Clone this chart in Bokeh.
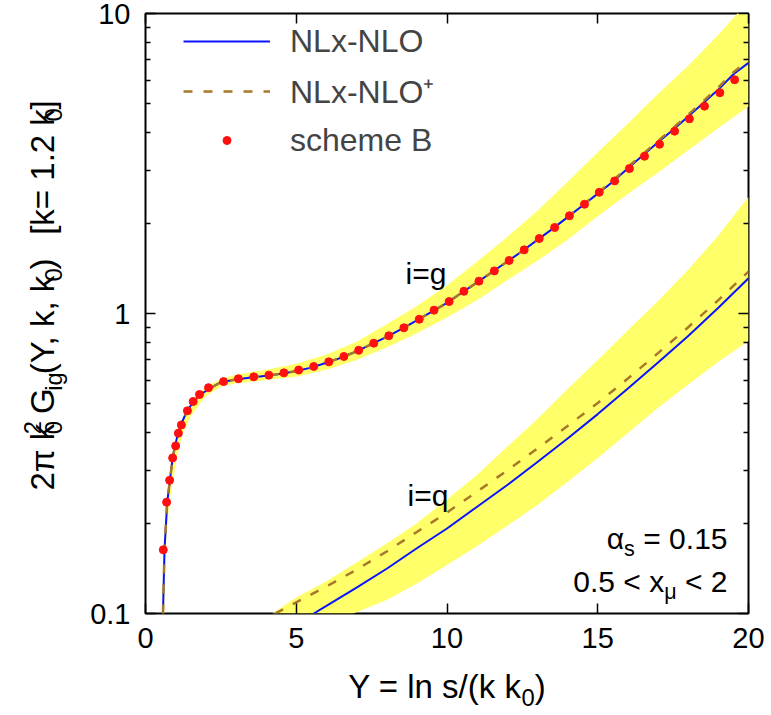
import math
from bokeh.plotting import figure
from bokeh.layouts import row, column
from bokeh.models import (Range1d, LogAxis, LinearAxis, FixedTicker, Legend, LegendItem,
                          Label, CustomJSTickFormatter)
from bokeh.core.properties import value
from bokeh.embed import file_html
from bokeh.resources import INLINE

FONT = "Liberation Sans"

# ---------------- data ----------------
x_ticks = [0, 5, 10, 15, 20]
y_ticks = [0.1, 1, 10]
y_tick_labels = {0.1: "0.1", 1: "1", 10: "10"}
y_minor = [0.2, 0.3, 0.4, 0.5, 0.6, 0.7, 0.8, 0.9, 2, 3, 4, 5, 6, 7, 8, 9]

# i = g : NLx-NLO (solid blue)
g_Y = [0.58, 0.63, 0.72, 0.81, 0.90, 0.98, 1.08, 1.17, 1.38, 1.60, 1.82, 2.18, 2.50, 3.0, 3.5,
       4.0, 4.5, 5.0, 5.5, 6.0, 6.5, 7.0, 7.5, 8.0, 8.5, 9.0, 9.5, 10, 10.5, 11, 11.5, 12, 12.5,
       13, 13.5, 14, 14.5, 15, 15.5, 16, 16.5, 17, 17.5, 18, 18.5, 19, 19.5, 20]
g_nlo = [0.1, 0.163, 0.235, 0.278, 0.33, 0.362, 0.4, 0.425, 0.474, 0.509, 0.537, 0.566, 0.59,
         0.603, 0.612, 0.62, 0.63, 0.643, 0.66, 0.685, 0.713, 0.748, 0.79, 0.836, 0.888, 0.948,
         1.015, 1.085, 1.175, 1.27, 1.375, 1.49, 1.615, 1.76, 1.915, 2.095, 2.29, 2.51, 2.75,
         3.05, 3.37, 3.72, 4.1, 4.54, 5.03, 5.58, 6.27, 6.85]
# i = g : NLx-NLO+ (dashed)
g_nlop = [0.1, 0.163, 0.235, 0.278, 0.33, 0.362, 0.4, 0.425, 0.474, 0.509, 0.537, 0.566, 0.59,
          0.603, 0.612, 0.62, 0.63, 0.643, 0.66, 0.685, 0.713, 0.748, 0.79, 0.836, 0.888, 0.948,
          1.015, 1.085, 1.175, 1.27, 1.375, 1.49, 1.615, 1.76, 1.92, 2.10, 2.30, 2.52, 2.77,
          3.08, 3.40, 3.76, 4.15, 4.60, 5.10, 5.67, 6.37, 6.97]
# i = g : scale band
g_band_Y_up = [0.55, 0.6, 0.7, 0.8, 1.0, 1.2, 1.5, 2.0, 2.5, 3.0, 4.0, 5.0, 6.0, 7.0, 8.0, 9.0,
               10, 11, 12, 13, 14, 15, 16, 17, 18, 19, 20]
g_band_up = [0.1, 0.165, 0.24, 0.285, 0.37, 0.44, 0.505, 0.57, 0.605, 0.625, 0.65, 0.68, 0.73,
             0.805, 0.92, 1.06, 1.24, 1.49, 1.8, 2.2, 2.75, 3.45, 4.3, 5.4, 6.7, 8.5, 11.0]
g_band_Y_lo = [0.62, 0.7, 0.8, 1.0, 1.2, 1.5, 2.0, 2.5, 3.0, 4.0, 5.0, 6.0, 7.0, 8.0, 9.0, 10,
               11, 12, 13, 14, 15, 16, 17, 18, 19, 20]
g_band_lo = [0.1, 0.185, 0.235, 0.315, 0.39, 0.455, 0.53, 0.57, 0.585, 0.6, 0.615, 0.65, 0.70,
             0.77, 0.86, 0.97, 1.11, 1.29, 1.5, 1.76, 2.11, 2.5, 2.95, 3.5, 4.15, 4.9]

# scheme B points (i = g)
B_Y = [0.59, 0.70, 0.80, 0.90, 1.00, 1.09, 1.19, 1.39, 1.58, 1.79, 2.09, 2.59, 3.08, 3.59, 4.09,
       4.59, 5.08, 5.58, 6.08, 6.58, 7.07, 7.57, 8.07, 8.57, 9.08, 9.57, 10.07, 10.56, 11.06,
       11.57, 12.06, 12.56, 13.06, 13.57, 14.06, 14.56, 15.05, 15.56, 16.05, 16.55, 17.05,
       17.55, 18.04, 18.54, 19.05, 19.54]
B_val = [0.163, 0.235, 0.278, 0.330, 0.362, 0.399, 0.425, 0.474, 0.509, 0.537, 0.566, 0.593,
         0.606, 0.615, 0.623, 0.634, 0.648, 0.666, 0.690, 0.719, 0.754, 0.796, 0.843, 0.896,
         0.957, 1.026, 1.096, 1.186, 1.282, 1.387, 1.502, 1.630, 1.778, 1.935, 2.117, 2.313,
         2.535, 2.767, 3.041, 3.343, 3.665, 4.052, 4.455, 4.911, 5.445, 6.012]

# i = q
q_Y = [5.58, 6, 7, 8, 9, 10, 11, 12, 13, 14, 15, 16, 17, 18, 19, 20]
q_nlo = [0.1, 0.106, 0.122, 0.141, 0.165, 0.192, 0.227, 0.268, 0.32, 0.383, 0.462, 0.562,
         0.687, 0.842, 1.045, 1.31]
qp_Y = [4.3, 5, 6, 7, 8, 9, 10, 11, 12, 13, 14, 15, 16, 17, 18, 19, 20]
q_nlop = [0.1, 0.109, 0.123, 0.14, 0.161, 0.187, 0.217, 0.255, 0.3, 0.355, 0.422, 0.503, 0.607,
          0.738, 0.9, 1.108, 1.38]
q_band_Y_up = [4.2, 5, 6, 7, 8, 9, 10, 11, 12, 13, 14, 15, 16, 17, 18, 19, 20]
q_band_up = [0.1, 0.113, 0.128, 0.148, 0.171, 0.2, 0.24, 0.29, 0.36, 0.445, 0.56, 0.7, 0.88,
             1.1, 1.4, 1.82, 2.45]
q_band_Y_lo = [6.9, 8, 9, 10, 11, 12, 13, 14, 15, 16, 17, 18, 19, 20]
q_band_lo = [0.1, 0.111, 0.126, 0.145, 0.168, 0.196, 0.23, 0.275, 0.33, 0.4, 0.485, 0.58, 0.69,
             0.81]

# ---------------- styles / geometry ----------------
BLUE = "#0a14ff"
BROWN = "#a8782a"
RED = "#ff1010"
YELLOW = "#ffff6a"
FS_TICK = 29     # tick labels
FS = 30          # in-plot texts
FS_T = 33        # axis titles
FS_LEG = 32      # legend
BASE_FIX = 0.32  # measured offset of Bokeh's "alphabetic" anchor, in font sizes

F_L, F_T, F_W, F_H = 145, 13, 603, 600      # frame in page pixels
LEFT_W = 70                                  # strip holding the y title
MAIN_W, MAIN_H = 700, 665
BOT_H = 50
TOTAL_W = LEFT_W + MAIN_W

# ---------------- main figure ----------------
p = figure(width=MAIN_W, height=MAIN_H,
           x_range=Range1d(0, 20), y_range=Range1d(0.1, 10), y_axis_type="log",
           output_backend="svg", toolbar_location=None,
           min_border_left=F_L - LEFT_W, min_border_top=F_T,
           min_border_right=MAIN_W - (F_L - LEFT_W) - F_W,
           min_border_bottom=MAIN_H - F_T - F_H)
p.background_fill_color = "white"
p.border_fill_color = "white"
p.outline_line_color = "black"
p.outline_line_width = 2
p.grid.visible = False

def style_axis(ax, labels=True):
    ax.axis_line_color = None
    ax.major_tick_in = 10
    ax.major_tick_out = 0
    ax.minor_tick_in = 5
    ax.minor_tick_out = 0
    ax.major_tick_line_color = "black"
    ax.major_tick_line_width = 1.5
    ax.minor_tick_line_color = "black"
    ax.minor_tick_line_width = 1.5
    ax.major_label_text_font = FONT
    ax.major_label_text_font_size = f"{FS_TICK}px"
    ax.major_label_text_color = "black"
    if not labels:
        ax.formatter = CustomJSTickFormatter(code="return ''")
        ax.major_label_standoff = 0

xa = p.xaxis[0]
xa.ticker = FixedTicker(ticks=x_ticks)
style_axis(xa)
xa.major_label_standoff = 14
ya = p.yaxis[0]
ya.ticker = FixedTicker(ticks=y_ticks, minor_ticks=y_minor)
ya.major_label_overrides = y_tick_labels
style_axis(ya)
ya.major_label_standoff = 15

top = LinearAxis(ticker=FixedTicker(ticks=x_ticks))
style_axis(top, labels=False)
p.add_layout(top, "above")
right = LogAxis(ticker=FixedTicker(ticks=y_ticks, minor_ticks=y_minor))
style_axis(right, labels=False)
p.add_layout(right, "right")

# bands
p.patch(g_band_Y_up + g_band_Y_lo[::-1], g_band_up + g_band_lo[::-1],
        fill_color=YELLOW, line_color=None)
p.patch(q_band_Y_up + q_band_Y_lo[::-1], q_band_up + q_band_lo[::-1],
        fill_color=YELLOW, line_color=None)

# curves
r_nlo = p.line(g_Y, g_nlo, line_color=BLUE, line_width=2)
p.line(q_Y, q_nlo, line_color=BLUE, line_width=2)
r_nlop = p.line(g_Y, g_nlop, line_color=BROWN, line_width=2.5, line_dash="9 11")
p.line(qp_Y, q_nlop, line_color=BROWN, line_width=2.5, line_dash="9 11")
r_B = p.scatter(B_Y, B_val, size=8, fill_color=RED, line_color=RED)

legend = Legend(items=[LegendItem(label="NLx-NLO", renderers=[r_nlo]),
                       LegendItem(label="NLx-NLO\u207a", renderers=[r_nlop]),
                       LegendItem(label="scheme B", renderers=[r_B])],
                location=(38, F_H - 11 - 136), margin=0, padding=0, spacing=8,
                glyph_width=87, glyph_height=20, label_height=40, label_standoff=20,
                label_text_font=FONT, label_text_font_size=f"{FS_LEG}px",
                border_line_color=None, background_fill_alpha=0)
p.add_layout(legend)

# ---------------- text helpers ----------------
W = {' ': 278, '.': 278, ',': 278, '=': 584, '<': 584, '+': 584, '-': 333, '(': 333, ')': 333,
     '[': 278, ']': 278, '/': 278, 'Y': 667, 'G': 778, 'N': 722, 'L': 556, 'O': 778, 'B': 667,
     'k': 500, 'i': 222, 'g': 556, 'q': 556, 'l': 222, 'n': 556, 's': 500, 'x': 500, 'c': 500,
     'h': 556, 'e': 556, 'm': 833, '\u03c0': 560, '\u03b1': 578, '\u03bc': 576}

def tw(s, fs):
    return sum(W.get(c, 556) for c in s) * fs / 1000.0

SUB = 0.72

def run_width(parts, fs):
    w = 0
    for kind, t in parts:
        if kind == "n":
            w += tw(t, fs)
        elif kind in ("sub", "sup"):
            w += tw(t, fs * SUB)
        else:
            w += max(tw(t[0], fs * SUB), tw(t[1], fs * SUB))
    return w

def run(put, parts, px, py, fs, vertical=False):
    """Lay out normal/sub/sup pieces from page point (px, py) on the baseline."""
    pos = 0.0
    ang = math.pi / 2 if vertical else 0.0

    def place(text, shift, size):
        lead = len(text) - len(text.lstrip(' '))
        off = tw(' ' * lead, size)
        t = text.strip(' ')
        fix = BASE_FIX * size
        if vertical:
            put(t, px + shift - fix, py - (pos + off), size, ang)
        else:
            put(t, px + pos + off, py + shift - fix, size, ang)

    for kind, t in parts:
        if kind == "n":
            place(t, 0, fs)
            pos += tw(t, fs)
        elif kind == "sub":
            place(t, 0.24 * fs, fs * SUB)
            pos += tw(t, fs * SUB)
        elif kind == "sup":
            place(t, -0.42 * fs, fs * SUB)
            pos += tw(t, fs * SUB)
        else:
            place(t[0], 0.24 * fs, fs * SUB)
            place(t[1], -0.42 * fs, fs * SUB)
            pos += max(tw(t[0], fs * SUB), tw(t[1], fs * SUB))

# in-frame labels of the main figure (page px -> data)
def dx(px):
    return (px - F_L) / F_W * 20.0

def dy(py):
    return 10 ** ((F_T + F_H - py) / 300.0 - 1.0)

def put_main(text, px, py, fs, angle=0.0):
    p.add_layout(Label(x=dx(px), y=dy(py), text=text, text_font=FONT,
                       text_font_size=f"{fs:.1f}px", text_align="left",
                       text_baseline="alphabetic", angle=angle, text_color="black"))

run(put_main, [("n", "i=g")], 405, 283, FS)
run(put_main, [("n", "i=q")], 407, 505, FS)
a_lab = [("n", "\u03b1"), ("sub", "s"), ("n", " = 0.15")]
run(put_main, a_lab, 727 - run_width(a_lab, FS), 548, FS)
m_lab = [("n", "0.5 < x"), ("sub", "\u03bc"), ("n", " < 2")]
run(put_main, m_lab, 727 - run_width(m_lab, FS), 591, FS)

# ---------------- side strips carrying the axis titles ----------------
def strip(w, h):
    f = figure(width=w, height=h, x_range=Range1d(0, w), y_range=Range1d(0, h),
               output_backend="svg", toolbar_location=None,
               x_axis_location=None, y_axis_location=None,
               min_border_left=0, min_border_right=0, min_border_top=0, min_border_bottom=0)
    f.outline_line_color = None
    f.grid.visible = False
    f.background_fill_color = "white"
    f.border_fill_color = "white"
    return f

lf = strip(LEFT_W, MAIN_H)

def put_left(text, px, py, fs, angle=0.0):
    lf.text(x=[px], y=[MAIN_H - py], text=[text], angle=angle, text_font=value(FONT),
            text_font_size=f"{fs:.1f}px", text_align="left", text_baseline="alphabetic",
            text_color="black")

ylab = [("n", "2\u03c0 k"), ("ss", ("0", "2")), ("n", " G"), ("sub", "ig"), ("n", "(Y, k, k"),
        ("sub", "0"), ("n", ")"), ("n", "   [k= 1.2 k"), ("sub", "0"), ("n", "]")]
wy = run_width(ylab, FS_T)
run(put_left, ylab, 53, F_T + F_H / 2 + wy / 2, FS_T, vertical=True)

bf = strip(TOTAL_W, BOT_H)

def put_bot(text, px, py, fs, angle=0.0):
    bf.text(x=[px], y=[MAIN_H + BOT_H - py], text=[text], angle=angle, text_font=value(FONT),
            text_font_size=f"{fs:.1f}px", text_align="left", text_baseline="alphabetic",
            text_color="black")

xlab = [("n", "Y = ln s/(k k"), ("sub", "0"), ("n", ")")]
wx = run_width(xlab, FS_T)
run(put_bot, xlab, F_L + F_W / 2 - wx / 2, 697, FS_T)

layout = column(row(lf, p, spacing=0), bf, spacing=0)
open("out.html", "w").write(file_html(layout, INLINE))
